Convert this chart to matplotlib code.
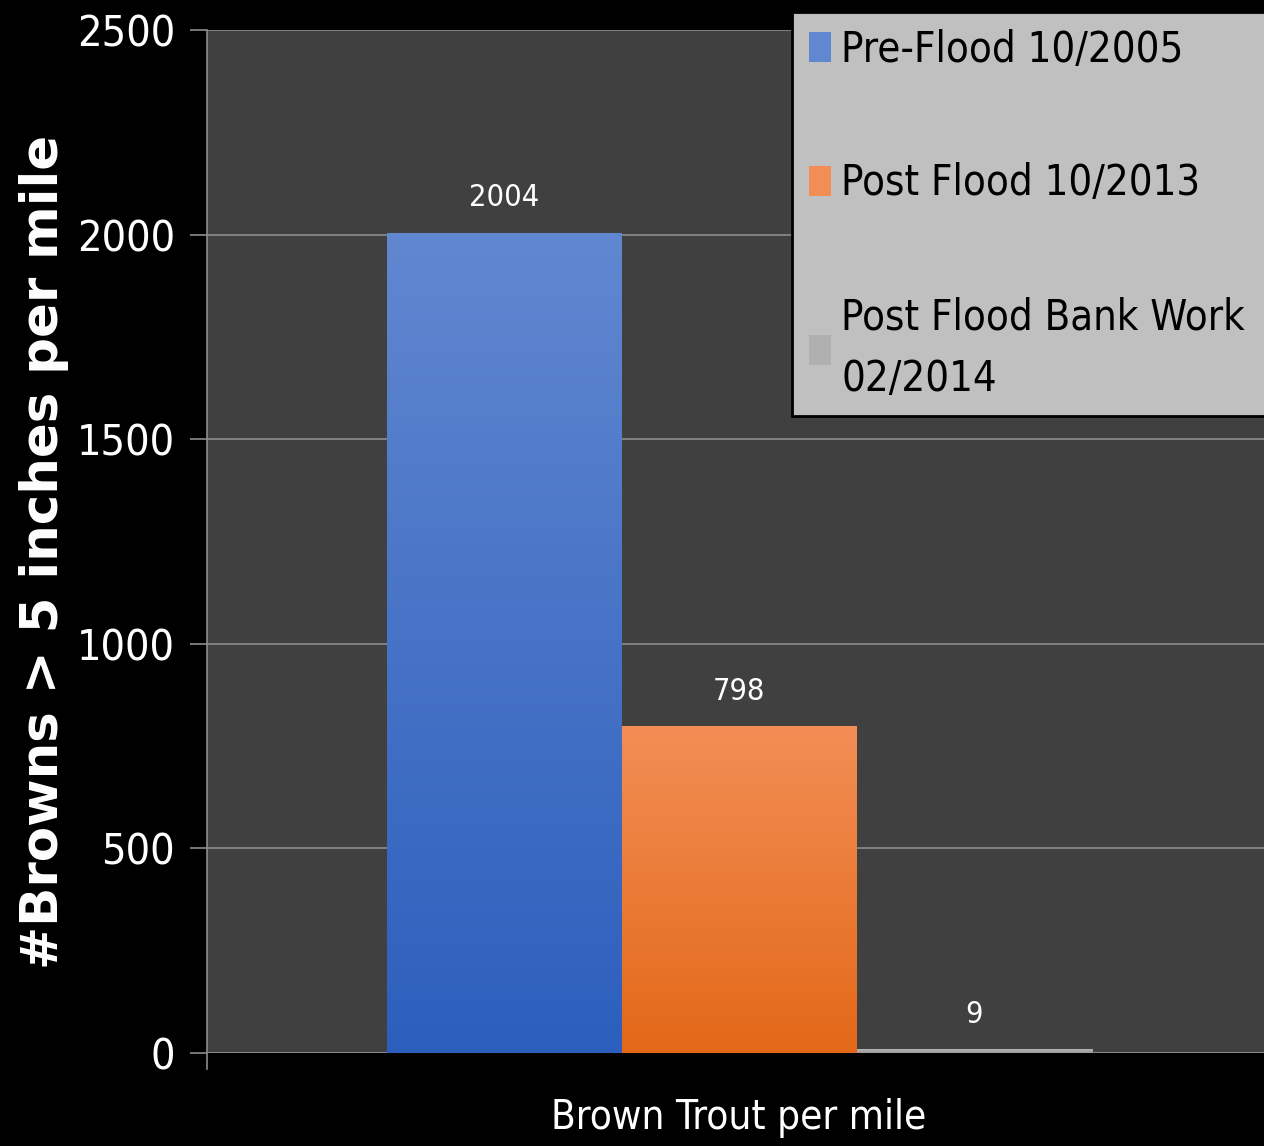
import numpy as np
import matplotlib
matplotlib.use("Agg")
import matplotlib.pyplot as plt
import matplotlib.font_manager as fm
from matplotlib.patches import Patch
from matplotlib.colors import LinearSegmentedColormap

categories = ["Brown Trout per mile"]
series = ["Pre-Flood 10/2005", "Post Flood 10/2013", "Post Flood Bank Work\n02/2014"]
values = [2004, 798, 9]
yticks = [0, 500, 1000, 1500, 2000, 2500]

top_colors = ["#6187d0", "#f28e55", "#b4b4b4"]
bot_colors = ["#2c5fbd", "#e36818", "#9a9a9a"]

# pick a condensed / narrow face if one is installed
narrow = None
for f in fm.fontManager.ttflist:
    nm = f.name.lower()
    st = str(f.stretch).lower()
    if f.style == "normal" and (("condensed" in st) or ("narrow" in nm) or ("condensed" in nm)):
        w = f.weight if isinstance(f.weight, int) else (700 if "bold" in str(f.weight) else 400)
        if w <= 500:
            narrow = f.fname
            break

def fp(size):
    if narrow:
        return fm.FontProperties(fname=narrow, size=size)
    return fm.FontProperties(family=["Liberation Sans", "DejaVu Sans"], size=size * 0.9)

fig = plt.figure(figsize=(12.64, 11.46), dpi=100, facecolor="black")
ax = fig.add_axes([207/1264, 1-1053/1146, 1064/1264, (1053-30)/1146])
ax.set_facecolor("#404040")

ax.set_xlim(-0.5, 0.5)
ax.set_ylim(0, 2500)
ax.set_yticks(yticks)
ax.set_yticklabels([str(t) for t in yticks], fontproperties=fp(31), color="white")
ax.tick_params(axis="y", length=12, width=1.2, color="#8c8c8c", pad=11)
ax.tick_params(axis="x", length=0)
ax.set_xticks([])
ax.yaxis.grid(True, color="#8c8c8c", linewidth=1.2)
ax.set_axisbelow(True)
for s in ["top", "right", "bottom"]:
    ax.spines[s].set_visible(False)
ax.spines["left"].set_color("#8c8c8c")
ax.spines["left"].set_linewidth(1.2)
ax.spines["left"].set_bounds(-40, 2500)
ax.axhline(0, color="#8c8c8c", linewidth=1.2, zorder=1)

width = 235/1064
offsets = np.array([-1, 0, 1]) * width
handles = []
for i, (v, o) in enumerate(zip(values, offsets)):
    bars = ax.bar(o, v, width=width, color="none", edgecolor="none", zorder=2)
    b = bars[0]
    cmap = LinearSegmentedColormap.from_list("g%d" % i, [bot_colors[i], top_colors[i]])
    grad = np.linspace(0, 1, 256).reshape(-1, 1)
    im = ax.imshow(grad, cmap=cmap, origin="lower", aspect="auto",
                   extent=[o - width/2, o + width/2, 0, max(v, 1)], zorder=2)
    im.set_clip_path(b)
    ax.text(o, v + 65, str(v), ha="center", va="baseline", color="white",
            fontproperties=fp(22), zorder=3)
    handles.append(Patch(facecolor=top_colors[i] if i != 2 else "#b0b0b0", edgecolor="none"))

ax.set_xlim(-0.5, 0.5)
ax.set_ylim(0, 2500)

ax.set_ylabel("#Browns > 5 inches per mile", color="white", fontsize=37,
              fontweight="bold", family="DejaVu Sans")
ax.yaxis.set_label_coords(-0.13, 0.49)
fig.text(739/1264, 1-1118/1146, categories[0], ha="center", va="center",
         color="white", fontproperties=fp(29))

leg_top = 1 - 12/1146
leg = fig.legend(handles, series, loc="upper left",
                 bbox_to_anchor=(792/1264, leg_top - 0.01, 520/1264, 0.01),
                 mode="expand",
                 prop=fp(30), labelcolor="black",
                 facecolor="#c0c0c0", edgecolor="black", framealpha=1,
                 fancybox=False, handlelength=0.53, handleheight=0.75,
                 handletextpad=0.25, labelspacing=2.2, borderpad=0.4,
                 borderaxespad=0)
leg.get_frame().set_linewidth(2)
for t in leg.get_texts():
    t.set_linespacing(1.6)

fig.savefig("out.png", dpi=100, facecolor="black")
